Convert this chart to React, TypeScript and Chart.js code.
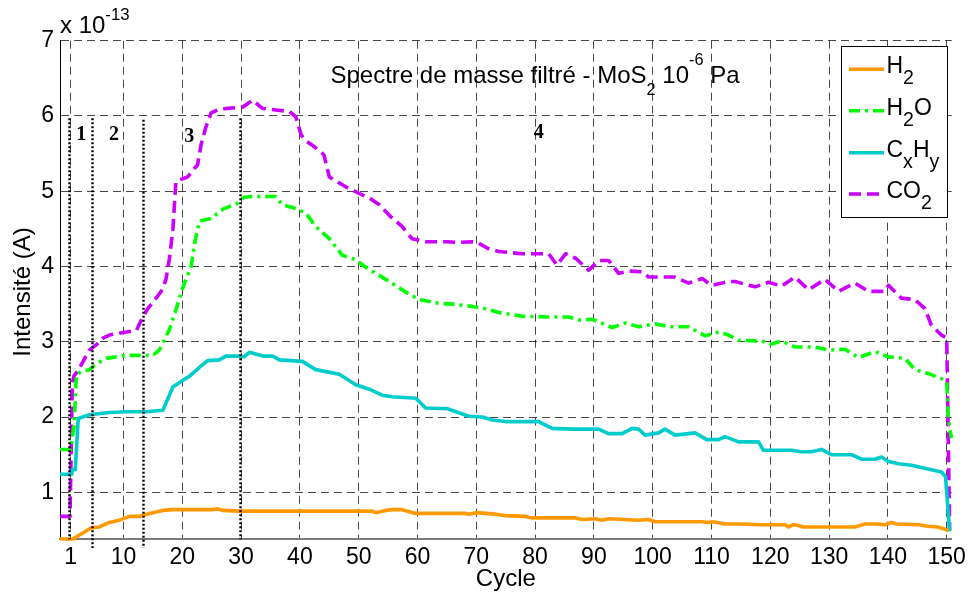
import React, { useEffect, useRef } from 'react';
import { Chart, registerables } from 'chart.js';

Chart.register(...registerables);

// ---------- data (intensity in units of 1e-13 A, x in cycles) ----------
const h2Cycles = [-0.8, 1.5, 2, 3.1, 4.5, 5.9, 7.6, 9.3, 11, 12.7, 14.4, 16.7, 18.4, 25.2, 26, 26.9, 29.7, 52.3, 52.9, 54.6, 55.7, 57.4, 59.7, 68.2, 68.7, 69.9, 73.3, 75, 78.4, 79.5, 86.9, 88, 90.2, 91.4, 92.5, 97.6, 99.3, 100.4, 108.4, 109.5, 110.3, 112.3, 114.6, 118.5, 122.5, 123.1, 123.9, 124.8, 125.6, 134.4, 136.1, 137.8, 139.5, 140.6, 141.5, 145.2, 146.8, 148.5, 149.7, 150.3];
const h2Values = [0.38, 0.38, 0.41, 0.46, 0.53, 0.54, 0.6, 0.63, 0.68, 0.68, 0.72, 0.76, 0.77, 0.77, 0.78, 0.76, 0.75, 0.75, 0.73, 0.76, 0.77, 0.77, 0.72, 0.72, 0.71, 0.73, 0.71, 0.69, 0.68, 0.66, 0.66, 0.64, 0.65, 0.63, 0.65, 0.63, 0.64, 0.61, 0.61, 0.6, 0.61, 0.58, 0.58, 0.57, 0.57, 0.54, 0.57, 0.56, 0.54, 0.54, 0.58, 0.58, 0.57, 0.6, 0.58, 0.57, 0.55, 0.54, 0.51, 0.49];

const h2oCycles = [-0.8, 1.0, 1.6, 2, 3, 4.2, 5.4, 7.1, 8.8, 10.5, 12.7, 15, 16.1, 17.8, 18.9, 20, 21.5, 22.1, 22.9, 24.9, 27.1, 29.4, 30.5, 31.7, 35.9, 37, 39.3, 41, 42.7, 45, 47.2, 49.5, 51, 52.9, 55.2, 58, 60.3, 63.7, 66, 69.3, 71.6, 73.8, 77.8, 82.3, 85.7, 87.4, 89.7, 93.1, 95.4, 97.6, 100.4, 102.7, 106.1, 108.9, 111.2, 112.9, 114.6, 118.5, 120.2, 121.9, 124.2, 127.6, 129.9, 132.7, 135, 137.8, 140.1, 142.9, 144.6, 146.8, 149.1, 150, 150.3, 150.8];
const h2oValues = [1.57, 1.57, 1.9, 2.57, 2.61, 2.63, 2.71, 2.78, 2.8, 2.82, 2.82, 2.82, 2.89, 3.16, 3.42, 3.7, 4.0, 4.31, 4.6, 4.64, 4.77, 4.84, 4.92, 4.93, 4.93, 4.82, 4.77, 4.71, 4.53, 4.37, 4.15, 4.09, 4.0, 3.91, 3.8, 3.66, 3.56, 3.51, 3.5, 3.47, 3.44, 3.39, 3.34, 3.33, 3.33, 3.29, 3.3, 3.19, 3.25, 3.2, 3.24, 3.2, 3.2, 3.08, 3.13, 3.09, 3.02, 3.01, 2.97, 3.01, 2.93, 2.93, 2.89, 2.9, 2.79, 2.87, 2.8, 2.78, 2.63, 2.58, 2.51, 2.47, 1.96, 1.72];

const cxhyCycles = [-0.8, 1.2, 1.3, 1.8, 2.3, 4.2, 7.6, 10.5, 13.9, 16.7, 18.4, 20.1, 21.2, 22.9, 24.3, 26.3, 27.4, 29.7, 30.5, 31.4, 33.7, 35.4, 36.5, 40.4, 42.7, 46.7, 49.5, 51.8, 54, 55.7, 59.7, 61.4, 65.1, 68.7, 71, 72.7, 75, 80.6, 82.9, 86.3, 90.8, 92.5, 94.8, 96.5, 97.6, 98.7, 101, 102.1, 103.8, 107.2, 109.2, 111.2, 112.3, 114.6, 118, 118.8, 123.6, 125.3, 127, 128.7, 130.4, 133.8, 135.5, 137.8, 138.9, 140.1, 141.8, 144, 145.7, 147.4, 149.1, 149.8, 150.5];
const cxhyValues = [1.24, 1.24, 1.3, 1.3, 1.98, 2.03, 2.06, 2.07, 2.07, 2.09, 2.4, 2.49, 2.54, 2.66, 2.75, 2.76, 2.81, 2.81, 2.8, 2.86, 2.81, 2.81, 2.76, 2.74, 2.63, 2.57, 2.43, 2.37, 2.29, 2.27, 2.25, 2.12, 2.11, 2.01, 2.0, 1.96, 1.94, 1.94, 1.85, 1.84, 1.84, 1.78, 1.78, 1.85, 1.84, 1.76, 1.79, 1.84, 1.76, 1.79, 1.7, 1.7, 1.74, 1.67, 1.67, 1.56, 1.56, 1.54, 1.54, 1.57, 1.5, 1.5, 1.44, 1.44, 1.47, 1.41, 1.38, 1.36, 1.33, 1.3, 1.27, 1.21, 0.48];

const co2Cycles = [-0.8, 0.9, 1.3, 1.6, 2.3, 3.2, 4.2, 5.5, 6.5, 7.6, 9, 10.5, 12.2, 13.2, 14.2, 14.9, 16.4, 17.2, 17.8, 18.4, 18.9, 19.5, 20.9, 22, 22.6, 23.2, 24, 24.9, 26, 27.4, 29, 30.3, 31.2, 32, 33, 33.7, 35.9, 38.2, 39.3, 40.2, 41, 42.1, 43.5, 44.1, 45, 46.7, 48, 50.1, 52, 53.5, 55.2, 57.4, 58.5, 59.1, 61.4, 65, 67, 69.3, 70.4, 72, 73.8, 77.8, 82.3, 83.7, 85.2, 86.9, 89.1, 90.8, 92.5, 94.2, 95.9, 98.2, 99.3, 103.7, 106.1, 108.4, 110, 112.9, 114, 117.4, 119.7, 121.9, 124.2, 126.5, 129.3, 131.6, 134.4, 136.7, 139.5, 140.1, 142.3, 144.6, 146.3, 147.4, 149.1, 150, 150.5];
const co2Values = [0.68, 0.68, 2.45, 2.55, 2.62, 2.75, 2.89, 2.97, 3.05, 3.09, 3.11, 3.13, 3.15, 3.32, 3.45, 3.51, 3.67, 3.82, 4.1, 4.49, 5.12, 5.15, 5.19, 5.3, 5.35, 5.62, 5.85, 6.04, 6.08, 6.1, 6.11, 6.12, 6.17, 6.21, 6.14, 6.1, 6.08, 6.06, 5.99, 5.75, 5.67, 5.61, 5.53, 5.48, 5.19, 5.11, 5.05, 4.97, 4.9, 4.82, 4.68, 4.53, 4.42, 4.37, 4.33, 4.33, 4.32, 4.33, 4.31, 4.24, 4.2, 4.17, 4.17, 4.02, 4.17, 4.11, 3.95, 4.08, 4.08, 3.91, 3.94, 3.93, 3.86, 3.86, 3.78, 3.84, 3.75, 3.8, 3.8, 3.73, 3.79, 3.74, 3.86, 3.69, 3.83, 3.67, 3.78, 3.67, 3.67, 3.75, 3.58, 3.56, 3.44, 3.22, 3.09, 3.05, 0.5];

const seriesNames = ['H_2', 'H_2O', 'C_xH_y', 'CO_2'];
const xTickValues = [1, 10, 20, 30, 40, 50, 60, 70, 80, 90, 100, 110, 120, 130, 140, 150];
const yTickValues = [1, 2, 3, 4, 5, 6, 7];
const xMin = -0.8;
const xMax = 150.85;
const yMin = 0.376;
const yMax = 7;

const phaseLabels = ['1', '2', '3', '4'];
const phaseLabelCycles = [2.8, 8.4, 21.2, 80.6];
const phaseLabelValues = [5.75, 5.75, 5.72, 5.77];
const phaseLineCycles = [0.78, 4.6, 13.4, 29.8];
const phaseLineTops = [5.97, 5.97, 5.95, 5.97];
const phaseLineBottoms = [0.376, 0.26, 0.26, 0.376];

const titleText = 'Spectre de masse filtré - MoS_2 10^{-6} Pa';
const exponentText = 'x 10^{-13}';
const yAxisTitle = 'Intensité (A)';
const xAxisTitle = 'Cycle';

// ---------- styles ----------
const FONT = "'Liberation Sans', Arial, Helvetica, sans-serif";
const colors = ['rgb(255,153,0)', 'rgb(0,255,0)', 'rgb(0,204,204)', 'rgb(204,0,255)'];
const dashes: number[][] = [[], [11, 5, 3, 5], [], [12, 6]];

type Seg = { t: string; k?: 'sub' | 'sup' };

function parseRich(s: string): Seg[] {
  const out: Seg[] = [];
  let buf = '';
  let i = 0;
  const flush = () => {
    if (buf) out.push({ t: buf });
    buf = '';
  };
  while (i < s.length) {
    const ch = s[i];
    if (ch === '_' || ch === '^') {
      flush();
      const k = ch === '_' ? 'sub' : 'sup';
      i++;
      let t = '';
      if (s[i] === '{') {
        const j = s.indexOf('}', i);
        t = s.slice(i + 1, j);
        i = j + 1;
      } else {
        t = s[i];
        i++;
      }
      out.push({ t, k });
    } else {
      buf += ch;
      i++;
    }
  }
  flush();
  return out;
}

function richWidth(ctx: CanvasRenderingContext2D, segs: Seg[], size: number, ratio: number) {
  let w = 0;
  for (const s of segs) {
    ctx.font = `${s.k ? size * ratio : size}px ${FONT}`;
    w += ctx.measureText(s.t).width;
  }
  return w;
}

function drawRich(
  ctx: CanvasRenderingContext2D,
  text: string,
  x: number,
  y: number,
  size: number,
  ratio: number,
  subDy: number,
  supDy: number,
  align: 'left' | 'center' = 'left'
) {
  const segs = parseRich(text);
  let cx = x;
  if (align === 'center') cx = x - richWidth(ctx, segs, size, ratio) / 2;
  ctx.save();
  ctx.fillStyle = '#000';
  ctx.textAlign = 'left';
  ctx.textBaseline = 'alphabetic';
  for (const s of segs) {
    const sz = s.k ? size * ratio : size;
    ctx.font = `${sz}px ${FONT}`;
    const dy = s.k === 'sub' ? subDy : s.k === 'sup' ? supDy : 0;
    ctx.fillText(s.t, cx, y + dy);
    cx += ctx.measureText(s.t).width;
  }
  ctx.restore();
}

const overlayPlugin = {
  id: 'overlay',
  afterDatasetsDraw(chart: any) {
    const ctx: CanvasRenderingContext2D = chart.ctx;
    const xs = chart.scales.x;
    const ys = chart.scales.y;
    // phase separators
    ctx.save();
    ctx.strokeStyle = '#000';
    ctx.lineWidth = 2.4;
    ctx.setLineDash([2, 2]);
    phaseLineCycles.forEach((c, i) => {
      const px = Math.round(xs.getPixelForValue(c)) + 0.5;
      ctx.beginPath();
      ctx.moveTo(px, ys.getPixelForValue(phaseLineTops[i]));
      ctx.lineTo(px, ys.getPixelForValue(phaseLineBottoms[i]));
      ctx.stroke();
    });
    ctx.restore();
    // phase labels
    ctx.save();
    ctx.fillStyle = '#000';
    ctx.font = "bold 20px 'Liberation Serif', 'Times New Roman', serif";
    ctx.textAlign = 'center';
    ctx.textBaseline = 'middle';
    phaseLabels.forEach((t, i) => {
      ctx.fillText(t, xs.getPixelForValue(phaseLabelCycles[i]), ys.getPixelForValue(phaseLabelValues[i]));
    });
    ctx.restore();
  },
  afterDraw(chart: any) {
    const ctx: CanvasRenderingContext2D = chart.ctx;
    const area = chart.chartArea;
    // title inside the axes
    drawRich(ctx, titleText, 535, 83, 24, 0.68, 12, -18, 'center');
    // exponent
    drawRich(ctx, exponentText, 60, 33, 24, 0.7, 10, -13, 'left');
    // axis titles
    ctx.save();
    ctx.fillStyle = '#000';
    ctx.font = `24px ${FONT}`;
    ctx.textAlign = 'center';
    ctx.textBaseline = 'alphabetic';
    ctx.fillText(xAxisTitle, (area.left + area.right) / 2, 586);
    ctx.translate(30, 292);
    ctx.rotate(-Math.PI / 2);
    ctx.fillText(yAxisTitle, 0, 0);
    ctx.restore();
    // legend
    const lx = 841.5, ly = 46.5, lw = 106, lh = 171;
    ctx.save();
    ctx.fillStyle = '#fff';
    ctx.fillRect(lx, ly, lw, lh);
    ctx.strokeStyle = '#000';
    ctx.lineWidth = 1;
    ctx.strokeRect(lx, ly, lw, lh);
    const rows = [69.3, 110.7, 152.7, 194];
    seriesNames.forEach((name, i) => {
      ctx.save();
      ctx.strokeStyle = colors[i];
      ctx.lineWidth = 3.5;
      ctx.setLineDash(dashes[i]);
      ctx.beginPath();
      ctx.moveTo(849, rows[i]);
      ctx.lineTo(884, rows[i]);
      ctx.stroke();
      ctx.restore();
      drawRich(ctx, name, 886.5, rows[i] + 4, 23, 0.85, 11, -12, 'left');
    });
    ctx.restore();
  },
};

export default function App() {
  const ref = useRef<HTMLCanvasElement | null>(null);
  useEffect(() => {
    if (!ref.current) return;
    const xs = [h2Cycles, h2oCycles, cxhyCycles, co2Cycles];
    const ys = [h2Values, h2oValues, cxhyValues, co2Values];
    const chart = new Chart(ref.current, {
      type: 'line',
      data: {
        datasets: seriesNames.map((name, i) => ({
          label: name,
          data: xs[i].map((c, j) => ({ x: c, y: ys[i][j] })),
          borderColor: colors[i],
          backgroundColor: colors[i],
          borderWidth: 3.6,
          borderDash: dashes[i],
          borderCapStyle: 'butt',
          borderJoinStyle: 'round',
          pointRadius: 0,
          tension: 0,
          fill: false,
          clip: 6,
        })),
      },
      options: {
        responsive: false,
        animation: false,
        events: [],
        layout: { padding: { top: 40.7, right: 18, left: 0, bottom: 0 } },
        plugins: { legend: { display: false }, tooltip: { enabled: false }, title: { display: false } },
        scales: {
          x: {
            type: 'linear',
            min: xMin,
            max: xMax,
            afterBuildTicks: (s: any) => {
              s.ticks = xTickValues.map((v) => ({ value: v }));
            },
            afterFit: (s: any) => {
              s.height = 53.7;
            },
            grid: { color: 'rgba(0,0,0,0.72)', lineWidth: 1, drawTicks: false },
            border: { display: true, color: '#7a7a7a', width: 2, dash: [8, 5] },
            ticks: {
              autoSkip: false,
              maxRotation: 0,
              minRotation: 0,
              padding: 5,
              color: '#000',
              font: { family: FONT, size: 23 },
              callback: (v: any) => String(v),
            },
          },
          y: {
            type: 'linear',
            min: yMin,
            max: yMax,
            afterBuildTicks: (s: any) => {
              s.ticks = yTickValues.map((v) => ({ value: v }));
            },
            afterFit: (s: any) => {
              s.width = 60;
            },
            grid: { color: 'rgba(0,0,0,0.72)', lineWidth: 1, drawTicks: false },
            border: { display: true, color: '#000', width: 1, dash: [8, 5] },
            ticks: {
              padding: 6,
              color: '#000',
              font: { family: FONT, size: 23 },
              callback: (v: any) => String(v),
            },
          },
        },
      },
      plugins: [overlayPlugin],
    } as any);
    return () => chart.destroy();
  }, []);
  return (
    <div style={{ position: 'fixed', left: 0, top: 0, width: 971, height: 593, background: '#fff' }}>
      <canvas ref={ref} width={971} height={593} style={{ display: 'block', width: 971, height: 593 }} />
    </div>
  );
}
